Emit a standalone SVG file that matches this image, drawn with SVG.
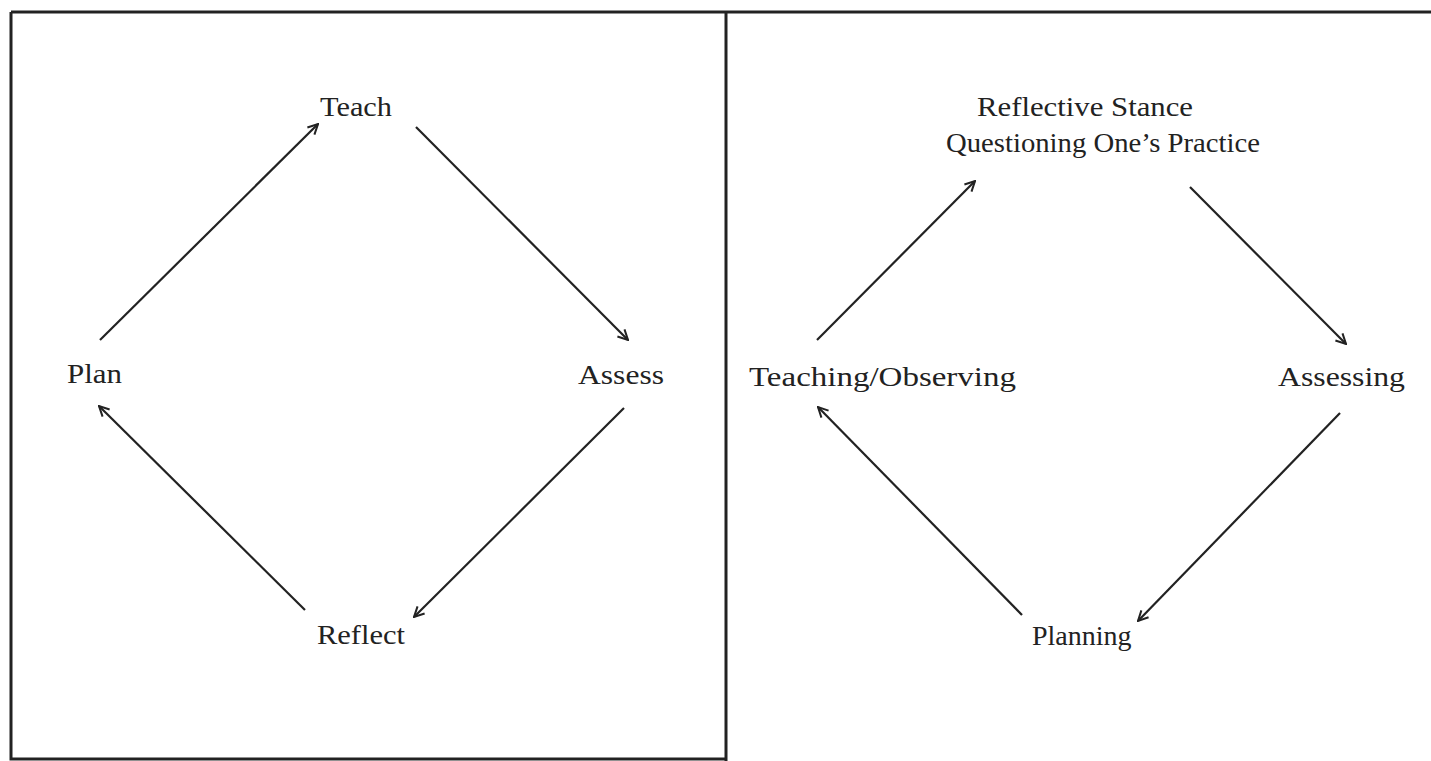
<svg xmlns="http://www.w3.org/2000/svg" width="1431" height="761" viewBox="0 0 1431 761">
<defs>
<style>
.frame{fill:none;stroke:#222;stroke-width:3}
.conn{stroke:#222;stroke-width:2.2;fill:none;marker-end:url(#ah)}
.lbl{font-family:"Liberation Serif","Times New Roman",serif;font-size:28px;fill:#222}
</style>
<marker id="ah" viewBox="0 0 12 12" refX="11" refY="6" markerWidth="12" markerHeight="12" markerUnits="userSpaceOnUse" orient="auto">
<path d="M1,1 L11,6 L1,11" fill="none" stroke="#222" stroke-width="2"/>
</marker>
</defs>
<rect width="1431" height="761" fill="#fff"/>
<g id="frames">
<path class="frame" d="M11,12 L1431,12"/>
<path class="frame" d="M11,12 L11,759 L726,759"/>
<path class="frame" d="M726,12 L726,761"/>
</g>
<g id="connectors">
<line class="conn" x1="100" y1="340" x2="318" y2="124"/>
<line class="conn" x1="416" y1="127" x2="628" y2="340"/>
<line class="conn" x1="624" y1="408" x2="414" y2="617"/>
<line class="conn" x1="305" y1="610" x2="99" y2="406"/>
<line class="conn" x1="817" y1="340" x2="975" y2="181"/>
<line class="conn" x1="1190" y1="187" x2="1346" y2="344"/>
<line class="conn" x1="1340" y1="413" x2="1138" y2="621"/>
<line class="conn" x1="1022" y1="615" x2="818" y2="407"/>
</g>
<g id="teach"><text class="lbl" x="320" y="116" textLength="72" lengthAdjust="spacingAndGlyphs">Teach</text></g>
<g id="plan"><text class="lbl" x="67" y="383" textLength="55" lengthAdjust="spacingAndGlyphs">Plan</text></g>
<g id="assess"><text class="lbl" x="578" y="384" textLength="86" lengthAdjust="spacingAndGlyphs">Assess</text></g>
<g id="reflect"><text class="lbl" x="317" y="644" textLength="88" lengthAdjust="spacingAndGlyphs">Reflect</text></g>
<g id="reflective-stance">
<text class="lbl" x="977" y="116" textLength="216" lengthAdjust="spacingAndGlyphs">Reflective Stance</text>
<text class="lbl" x="946" y="152" textLength="314" lengthAdjust="spacingAndGlyphs">Questioning One’s Practice</text>
</g>
<g id="teaching-observing"><text class="lbl" x="749" y="386" textLength="267" lengthAdjust="spacingAndGlyphs">Teaching/Observing</text></g>
<g id="assessing"><text class="lbl" x="1278" y="386" textLength="127" lengthAdjust="spacingAndGlyphs">Assessing</text></g>
<g id="planning"><text class="lbl" x="1032" y="645">Planning</text></g>
</svg>
